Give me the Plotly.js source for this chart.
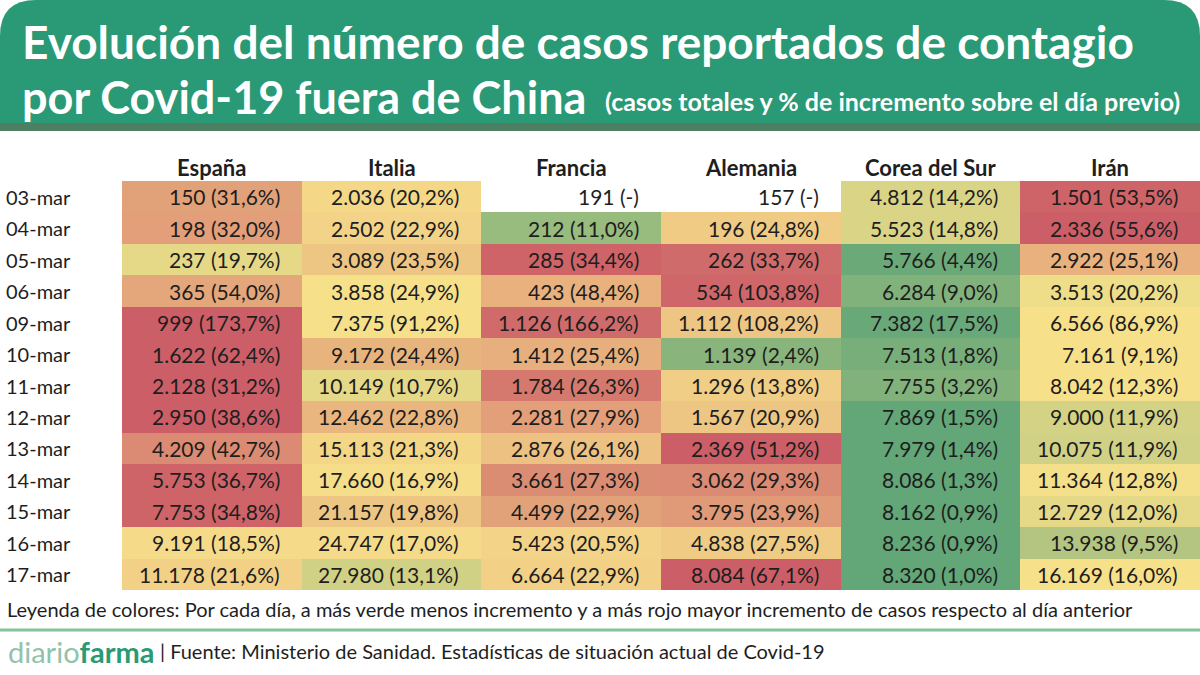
<!DOCTYPE html>
<html>
<head>
<meta charset="utf-8">
<script src="https://cdn.plot.ly/plotly-3.0.1.min.js"></script>
<style>
  html, body { margin: 0; padding: 0; background: #ffffff; }
  #chart { width: 1200px; height: 675px; }
</style>
</head>
<body>
<div id="chart"></div>
<script>
// ---- Data ----
const countries = ["España", "Italia", "Francia", "Alemania", "Corea del Sur", "Irán"];
const dates = ["03-mar", "04-mar", "05-mar", "06-mar", "09-mar", "10-mar", "11-mar",
               "12-mar", "13-mar", "14-mar", "15-mar", "16-mar", "17-mar"];

// total cases per day (rows) and country (columns)
const espana   = [150, 198, 237, 365, 999, 1622, 2128, 2950, 4209, 5753, 7753, 9191, 11178];
const italia   = [2036, 2502, 3089, 3858, 7375, 9172, 10149, 12462, 15113, 17660, 21157, 24747, 27980];
const francia  = [191, 212, 285, 423, 1126, 1412, 1784, 2281, 2876, 3661, 4499, 5423, 6664];
const alemania = [157, 196, 262, 534, 1112, 1139, 1296, 1567, 2369, 3062, 3795, 4838, 8084];
const corea    = [4812, 5523, 5766, 6284, 7382, 7513, 7755, 7869, 7979, 8086, 8162, 8236, 8320];
const iran     = [1501, 2336, 2922, 3513, 6566, 7161, 8042, 9000, 10075, 11364, 12729, 13938, 16169];

// % increase over previous day (null = not available, shown as "(-)")
const espanaPct   = [31.6, 32.0, 19.7, 54.0, 173.7, 62.4, 31.2, 38.6, 42.7, 36.7, 34.8, 18.5, 21.6];
const italiaPct   = [20.2, 22.9, 23.5, 24.9, 91.2, 24.4, 10.7, 22.8, 21.3, 16.9, 19.8, 17.0, 13.1];
const franciaPct  = [null, 11.0, 34.4, 48.4, 166.2, 25.4, 26.3, 27.9, 26.1, 27.3, 22.9, 20.5, 22.9];
const alemaniaPct = [null, 24.8, 33.7, 103.8, 108.2, 2.4, 13.8, 20.9, 51.2, 29.3, 23.9, 27.5, 67.1];
const coreaPct    = [14.2, 14.8, 4.4, 9.0, 17.5, 1.8, 3.2, 1.5, 1.4, 1.3, 0.9, 0.9, 1.0];
const iranPct     = [53.5, 55.6, 25.1, 20.2, 86.9, 9.1, 12.3, 11.9, 11.9, 12.8, 12.0, 9.5, 16.0];

// colour level of each cell (0 = green, 0.5 = yellow, 1 = red)
const espanaLvl   = [0.74, 0.75, 0.44, 0.72, 1.00, 1.00, 1.00, 1.00, 0.83, 0.98, 0.98, 0.52, 0.56];
const italiaLvl   = [0.53, 0.55, 0.60, 0.50, 0.50, 0.67, 0.44, 0.66, 0.54, 0.51, 0.60, 0.52, 0.37];
const franciaLvl  = [null, 0.18, 0.98, 0.68, 0.95, 0.69, 0.90, 0.75, 0.62, 0.82, 0.74, 0.55, 0.56];
const alemaniaLvl = [null, 0.58, 0.95, 0.97, 0.60, 0.13, 0.57, 0.60, 1.00, 0.83, 0.77, 0.58, 1.00];
const coreaLvl    = [0.40, 0.40, 0.03, 0.10, 0.02, 0.07, 0.10, 0.00, 0.00, 0.00, 0.00, 0.00, 0.00];
const iranLvl     = [0.98, 1.00, 0.68, 0.47, 0.50, 0.50, 0.50, 0.38, 0.37, 0.49, 0.44, 0.27, 0.50];

// ---- Build ----
const cases = [espana, italia, francia, alemania, corea, iran];
const pcts = [espanaPct, italiaPct, franciaPct, alemaniaPct, coreaPct, iranPct];
const lvls = [espanaLvl, italiaLvl, franciaLvl, alemaniaLvl, coreaLvl, iranLvl];

const fmtInt = n => String(n).replace(/\B(?=(\d{3})+(?!\d))/g, ".");
const fmtPct = p => p === null ? "(-)" : "(" + p.toFixed(1).replace(".", ",") + "%)";

const W = 1200, H = 675;
const px = x => x / W;
const py = y => 1 - y / H;

const xIdx = countries.map((_, j) => j);
const yIdx = dates.map((_, i) => i);
const z = dates.map((_, i) => countries.map((_, j) => lvls[j][i]));

const trace = {
  type: "heatmap",
  x: xIdx, y: yIdx, z: z,
  zmin: 0, zmax: 1,
  colorscale: [[0, "#63a677"], [0.5, "#f7e08a"], [1, "#cc5e67"]],
  showscale: false,
  hoverinfo: "skip",
  xgap: 0, ygap: 0
};

const BODY = "Lato, 'Noto Sans', sans-serif";
const annotations = [];

// cell texts
countries.forEach((c, j) => {
  dates.forEach((d, i) => {
    annotations.push({
      xref: "x", yref: "y", x: j + 0.5 - 20 / 180, y: i,
      xanchor: "right", yanchor: "middle", showarrow: false,
      text: fmtInt(cases[j][i]) + " " + fmtPct(pcts[j][i]),
      font: { family: BODY, size: 21, color: "#1e1e1e" }
    });
  });
});

// row labels
dates.forEach((d, i) => {
  annotations.push({
    xref: "paper", yref: "y", x: px(4), y: i,
    xanchor: "left", yanchor: "middle", showarrow: false,
    text: d, font: { family: BODY, size: 20, color: "#1e1e1e" }
  });
});

// column headers
countries.forEach((c, j) => {
  annotations.push({
    xref: "x", yref: "paper", x: j, y: py(167),
    xanchor: "center", yanchor: "middle", showarrow: false,
    text: "<b>" + c + "</b>", font: { family: BODY, size: 22, color: "#1e1e1e" }
  });
});

// title
const TITLE = "Lato, 'Open Sans', sans-serif";
annotations.push({
  xref: "paper", yref: "paper", x: px(20), y: py(42),
  xanchor: "left", yanchor: "middle", showarrow: false,
  text: "<b>Evolución del número de casos reportados de contagio</b>",
  font: { family: TITLE, size: 46, color: "#ffffff" }
});
annotations.push({
  xref: "paper", yref: "paper", x: px(20), y: py(97),
  xanchor: "left", yanchor: "middle", showarrow: false,
  text: "<b>por Covid-19 fuera de China</b>",
  font: { family: TITLE, size: 45, color: "#ffffff" }
});
annotations.push({
  xref: "paper", yref: "paper", x: px(1182), y: py(101),
  xanchor: "right", yanchor: "middle", showarrow: false,
  text: "<b>(casos totales y % de incremento sobre el día previo)</b>",
  font: { family: TITLE, size: 25, color: "#ffffff" }
});

// colour legend note
annotations.push({
  xref: "paper", yref: "paper", x: px(5), y: py(609),
  xanchor: "left", yanchor: "middle", showarrow: false,
  text: "Leyenda de colores: Por cada día, a más verde menos incremento y a más rojo mayor incremento de casos respecto al día anterior",
  font: { family: BODY, size: 20, color: "#1e1e1e" }
});

// footer
annotations.push({
  xref: "paper", yref: "paper", x: px(6), y: py(651),
  xanchor: "left", yanchor: "middle", showarrow: false,
  text: "<span style='color:#8fc3ab'>diario</span><b style='color:#2a9a74'>farma</b>",
  font: { family: BODY, size: 29, color: "#2a9a74" }
});
annotations.push({
  xref: "paper", yref: "paper", x: px(158), y: py(651),
  xanchor: "left", yanchor: "middle", showarrow: false,
  text: "| Fuente: Ministerio de Sanidad. Estadísticas de situación actual de Covid-19",
  font: { family: BODY, size: 20, color: "#1e1e1e" }
});

// banner shape (rounded top corners)
const rad = 36, bTop = 0, bBot = 124;
const bannerPath =
  "M " + px(0) + "," + py(bBot) +
  " L " + px(0) + "," + py(bTop + rad) +
  " Q " + px(0) + "," + py(bTop) + " " + px(rad) + "," + py(bTop) +
  " L " + px(W - rad) + "," + py(bTop) +
  " Q " + px(W) + "," + py(bTop) + " " + px(W) + "," + py(bTop + rad) +
  " L " + px(W) + "," + py(bBot) + " Z";

const shapes = [
  { type: "path", xref: "paper", yref: "paper", path: bannerPath,
    fillcolor: "#2a9975", line: { width: 0 }, layer: "below" },
  { type: "rect", xref: "paper", yref: "paper", x0: 0, x1: 1, y0: py(131), y1: py(123),
    fillcolor: "#4f7f62", line: { width: 0 }, layer: "below" },
  { type: "line", xref: "paper", yref: "paper", x0: 0, x1: 1, y0: py(630), y1: py(630),
    line: { color: "#86c29c", width: 3 } }
];

const layout = {
  width: W, height: H,
  margin: { l: 0, r: 0, t: 0, b: 0, pad: 0 },
  paper_bgcolor: "#ffffff", plot_bgcolor: "#ffffff",
  xaxis: { domain: [px(122), 1], range: [-0.5, 5.5], visible: false, fixedrange: true },
  yaxis: { domain: [py(590), py(181)], range: [12.5, -0.5], visible: false, fixedrange: true },
  showlegend: false,
  annotations: annotations,
  shapes: shapes
};

Plotly.newPlot("chart", [trace], layout, { staticPlot: true, displayModeBar: false });
</script>
</body>
</html>
